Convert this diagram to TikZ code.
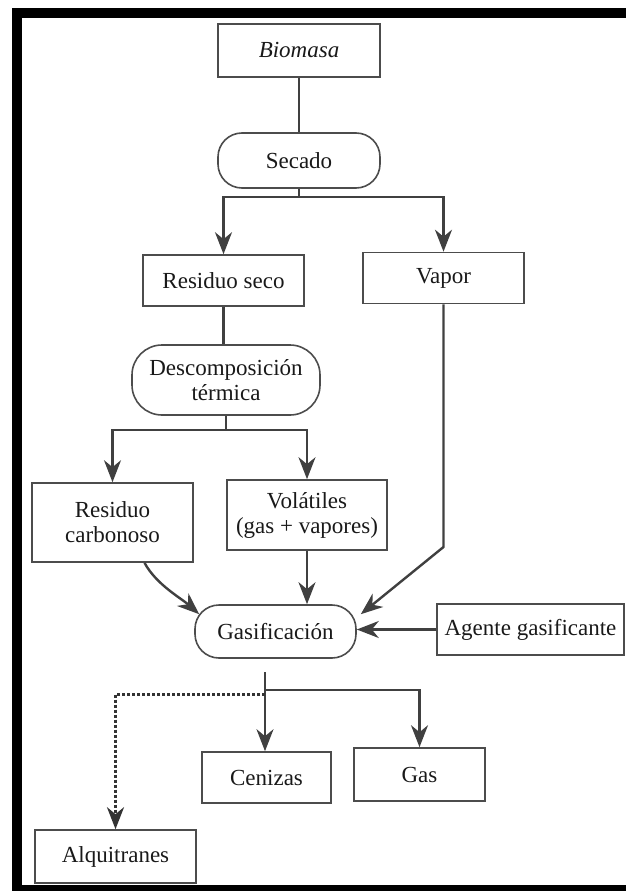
\documentclass[tikz,border=0pt]{standalone}
\usepackage{fontspec}
\setmainfont{Liberation Serif}
\usetikzlibrary{arrows.meta}
\definecolor{linegray}{gray}{0.25}
\definecolor{boxgray}{gray}{0.3}

\begin{document}
\begin{tikzpicture}[x=1pt,y=-1pt,
  box/.style={draw=boxgray, line width=1.6pt, inner sep=0pt, align=center,
    font=\fontsize{23}{25}\selectfont, text=black!90},
  pill/.style={box, rounded corners=24pt},
  link/.style={draw=linegray, line width=2.4pt},
  flow/.style={link, -{Stealth[length=22pt,width=17pt,inset=7pt]}},
  tarline/.style={flow, draw=black!80, line width=3pt, dash pattern=on 3pt off 2pt}]

  \useasboundingbox (0,0) rectangle (626,891);

  % Frame
  \fill (12,8) rectangle (626,18);
  \fill (12,8) rectangle (22,891);
  \fill (12,885) rectangle (626,891);

  % Boxes and process steps
  \node[box, minimum width=162pt, minimum height=53pt, font=\fontsize{23}{25}\selectfont\itshape] (bio) at (299,50.5) {Biomasa};
  \node[pill, minimum width=162pt, minimum height=55pt] (sec) at (299,160.5) {Secado};
  \node[box, minimum width=161pt, minimum height=51pt] (res) at (223.5,280.5) {Residuo seco};
  \node[box, minimum width=161pt, minimum height=51pt] (vap) at (443.5,278) {Vapor};
  \node[pill, minimum width=188pt, minimum height=70pt, rounded corners=30pt] (desc) at (226,380) {Descomposición\\térmica};
  \node[box, minimum width=161pt, minimum height=79pt] (carb) at (112.5,522.5) {Residuo\\carbonoso};
  \node[box, minimum width=160pt, minimum height=70pt] (vol) at (307,515) {Volátiles\\(gas + vapores)};
  \node[pill, minimum width=161pt, minimum height=53pt] (gasif) at (275.5,631.5) {Gasificación};
  \node[box, minimum width=187pt, minimum height=51pt] (agent) at (530.5,629.5) {Agente gasificante};
  \node[box, minimum width=129pt, minimum height=51pt] (cen) at (266.5,777.5) {Cenizas};
  \node[box, minimum width=131pt, minimum height=53pt] (gasprod) at (419.5,774.5) {Gas};
  \node[box, minimum width=161pt, minimum height=53pt] (alq) at (115.5,856.5) {Alquitranes};

  % Drying
  \coordinate (split1) at (299,197);
  \draw[link] (bio) -- (sec);
  \draw[link] (sec.south) -- (split1);
  \draw[flow] (split1) -| (res.north);
  \draw[flow] (split1) -| (vap.north);

  % Thermal decomposition
  \coordinate (split2) at (226,430);
  \draw[link] (res.south) -- (res.south |- desc.north);
  \draw[link] (desc.south) -- (split2);
  \draw[flow] (split2) -| (carb.north);
  \draw[flow] (split2) -| (vol.north);

  % Into gasification
  \coordinate (vbend) at (443.5,547);
  \draw[flow] ([xshift=32pt]carb.south) .. controls +(12,22) and +(-18,-16) .. ([xshift=5pt,yshift=-10pt]gasif.north west);
  \draw[flow] (vol.south) -- (vol.south |- gasif.north);
  \draw[flow] (vap.south) -- (vbend) -- ([xshift=4pt,yshift=-10pt]gasif.north east);
  \draw[flow] (agent.west) -- (agent.west -| gasif.east);

  % Products
  \coordinate (gout) at (265,672);
  \coordinate (split3) at (265,690);
  \coordinate (tarsplit) at (265,694);
  \draw[flow] (gout) -- (gout |- cen.north);
  \draw[flow] (split3) -| (gasprod.north);
  \draw[tarline] (tarsplit) -| (alq.north);
\end{tikzpicture}
\end{document}
